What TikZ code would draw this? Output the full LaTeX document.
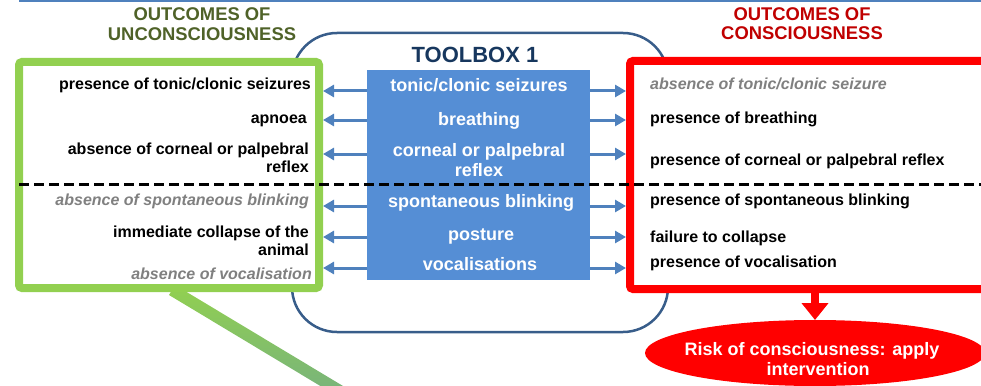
\documentclass[tikz,border=0pt]{standalone}
\usepackage{fontspec}
\setmainfont{Liberation Sans}
\usetikzlibrary{arrows.meta,shapes.geometric}

\definecolor{limegreen}{HTML}{92D050}
\definecolor{beamend}{HTML}{76B17F}
\definecolor{olivetitle}{HTML}{4F6228}
\definecolor{darkred}{HTML}{C00000}
\definecolor{frameblue}{HTML}{385D8A}
\definecolor{toolfill}{HTML}{558ED5}
\definecolor{arrowblue}{HTML}{4F81BD}
\definecolor{navy}{HTML}{17375E}
\definecolor{softgray}{HTML}{808080}

\begin{document}
\begin{tikzpicture}[x=1pt,y=-1pt,
  title/.style={anchor=base, inner sep=0, font=\fontsize{18.4}{20}\selectfont\bfseries},
  sidetext/.style={inner sep=0, font=\fontsize{16}{19}\selectfont\bfseries},
  lefttext/.style={sidetext, anchor=base east},
  righttext/.style={sidetext, anchor=base west},
  faded/.style={text=softgray, font=\fontsize{16}{19}\selectfont\bfseries\itshape},
  tooltext/.style={anchor=base, inner sep=0, text=white, font=\fontsize{18}{20}\selectfont\bfseries},
  biarrow/.style={draw=arrowblue, line width=3, -{Triangle[length=11pt,width=12pt]}},
  outcomebox/.style={rectangle, fill=white, line width=8, rounded corners=3}
]
\useasboundingbox (0,0) rectangle (981,385);

% rule across the top
\coordinate (ruleL) at (19,1);
\coordinate (ruleR) at (981,1);
\draw[arrowblue, line width=2] (ruleL) -- (ruleR);

% outline around the toolbox
\node[draw=frameblue, line width=2.5, rounded corners=45, minimum width=376, minimum height=299, inner sep=0]
  (frame) at (480,182.5) {};

% green beam leaving the lower left box
\shade[top color=limegreen, bottom color=beamend]
  (175,285) -- (169,295) -- (347,402) -- (353,392) -- cycle;

% outcome boxes
\node[outcomebox, draw=limegreen, minimum width=300, minimum height=226] (gbox) at (169,175) {};
\node[outcomebox, draw=red, minimum width=370, minimum height=228] (rbox) at (815,175) {};

% titles
\node[title, text=olivetitle] (gt1) at (202,21) {OUTCOMES OF};
\node[title, text=olivetitle] (gt2) at (202,41) {UNCONSCIOUSNESS};
\node[title, text=darkred] (rt1) at (802,21) {OUTCOMES OF};
\node[title, text=darkred] (rt2) at (802,40) {CONSCIOUSNESS};
\node[anchor=base, inner sep=0, text=navy, font=\fontsize{22}{24}\selectfont\bfseries] (tbt) at (475,63) {TOOLBOX 1};

% toolbox
\node[fill=toolfill, minimum width=223, minimum height=210, inner sep=0] (tb) at (478.5,175) {};
\node[tooltext] (t1) at (479,92) {tonic/clonic seizures};
\node[tooltext] (t2) at (479,125) {breathing};
\node[tooltext] (t3a) at (479,156) {corneal or palpebral};
\node[tooltext] (t3b) at (479,176) {reflex};
\node[tooltext] (t4) at (481,207) {spontaneous blinking};
\node[tooltext] (t5) at (481,240) {posture};
\node[tooltext] (t6) at (480,270) {vocalisations};

% unconsciousness outcomes
\node[lefttext] (l1) at (311,90) {presence of tonic/clonic seizures};
\node[lefttext] (l2) at (307,124) {apnoea};
\node[lefttext] (l3a) at (309,154) {absence of corneal or palpebral};
\node[lefttext] (l3b) at (309,172) {reflex};
\node[lefttext, faded] (l4) at (309,205) {absence of spontaneous blinking};
\node[lefttext] (l5a) at (309,237) {immediate collapse of the};
\node[lefttext] (l5b) at (309,255) {animal};
\node[lefttext, faded] (l6) at (312,279) {absence of vocalisation};

% consciousness outcomes
\node[righttext, faded] (r1) at (650,90) {absence of tonic/clonic seizure};
\node[righttext] (r2) at (650,123) {presence of breathing};
\node[righttext] (r3) at (650,165) {presence of corneal or palpebral reflex};
\node[righttext] (r4) at (650,205) {presence of spontaneous blinking};
\node[righttext] (r5) at (650,242) {failure to collapse};
\node[righttext] (r6) at (650,267) {presence of vocalisation};

% arrows from the toolbox to both sides
\foreach \yy in {91,120,154,206,237,268}{
  \draw[biarrow] (tb.west |- 0,\yy) -- (gbox.east |- 0,\yy);
  \draw[biarrow] (tb.east |- 0,\yy) -- (rbox.west |- 0,\yy);
}

% divider between the two groups of indicators
\coordinate (dashL) at (19,184);
\coordinate (dashR) at (981,184);
\draw[line width=3, dash pattern=on 10pt off 5pt] (dashL) -- (dashR);

% conclusion
\node[ellipse, fill=red, minimum width=340, minimum height=66, inner sep=0, outer sep=0] (ell) at (815,353) {};
\draw[red, line width=8, -{Triangle[length=17pt,width=26pt]}] (rbox.south) -- (ell.north);
\node[tooltext] (e1) at (812,355) {Risk of consciousness: apply};
\node[tooltext] (e2) at (818,375) {intervention};
\end{tikzpicture}
\end{document}
